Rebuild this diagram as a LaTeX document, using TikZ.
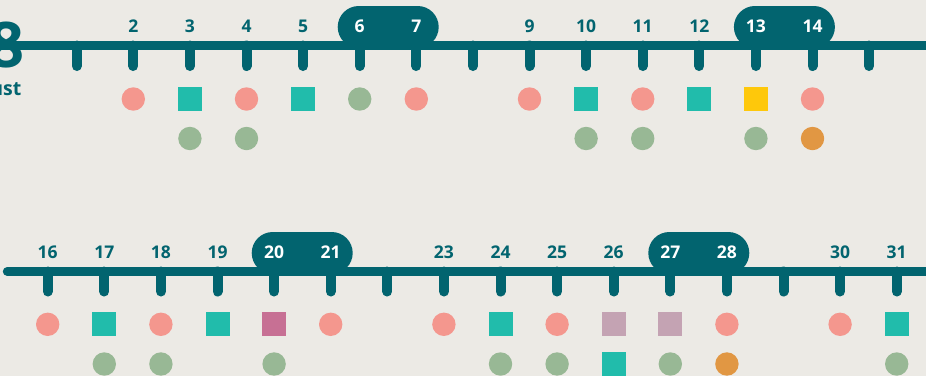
\documentclass[tikz,border=0pt]{standalone}
\usepackage{fontspec}
\setmainfont{Open Sans}
\definecolor{bg}{HTML}{ECEAE5}
\definecolor{ink}{HTML}{02646F}
\definecolor{pinkc}{HTML}{F4978E}
\definecolor{tealc}{HTML}{21BCAB}
\definecolor{greenc}{HTML}{98B895}
\definecolor{yellowc}{HTML}{FEC80B}
\definecolor{orangec}{HTML}{E19743}
\definecolor{magc}{HTML}{C77094}
\definecolor{mauvec}{HTML}{C4A3B3}
\tikzset{
  axisline/.style={draw=ink, line width=9pt},
  tickmark/.style={draw=ink, line width=10pt, line cap=round},
  pill/.style={fill=ink, rounded corners=21pt},
  daylabel/.style={inner sep=0pt, text=ink, font=\fontsize{17.5}{19}\selectfont\bfseries},
  daylabelw/.style={daylabel, text=white},
  dot/.style={circle, inner sep=0pt, minimum size=23.4pt},
  sq/.style={rectangle, inner sep=0pt, minimum size=24pt},
}
\begin{document}
\begin{tikzpicture}[x=1pt,y=-1pt]
\useasboundingbox (0,0) rectangle (926,376);
\fill[bg] (0,0) rectangle (926,376);
\clip (0,0) rectangle (926,376);

% ---------- top row ----------
\fill[pill] (337.7,6) rectangle (438.7,48);
\fill[pill] (733.9,6) rectangle (834.9,48);
\draw[axisline] (0,45.5) -- (926,45.5);
\node[inner sep=0pt, anchor=east, text=ink, font=\fontsize{63}{63}\selectfont\bfseries] (yr) at (24.5,45.5) {8};
\node[inner sep=0pt, anchor=base east, text=ink, font=\fontsize{19.5}{20}\selectfont\bfseries] (mon) at (21.5,95) {August};
\foreach \d in {1,...,15}{
  \coordinate (t\d) at ({76.7+56.6*(\d-1)},45.5);
  \coordinate (b\d) at ({76.7+56.6*(\d-1)},66);
  \draw[tickmark] (t\d) -- (b\d);
}
\foreach \d in {2,3,4,5,9,10,11,12}{
  \node[daylabel] (l\d) at ({76.7+56.6*(\d-1)},26.5) {\d};
}
\foreach \d in {6,7,13,14}{
  \node[daylabelw] (l\d) at ({76.7+56.6*(\d-1)},26.5) {\d};
}
% first row of markers
\foreach \d/\s/\c in {2/dot/pinkc,3/sq/tealc,4/dot/pinkc,5/sq/tealc,6/dot/greenc,7/dot/pinkc,
                      9/dot/pinkc,10/sq/tealc,11/dot/pinkc,12/sq/tealc,13/sq/yellowc,14/dot/pinkc}{
  \node[\s, fill=\c] (m\d a) at ({76.7+56.6*(\d-1)},99) {};
}
\foreach \d/\s/\c in {3/dot/greenc,4/dot/greenc,10/dot/greenc,11/dot/greenc,13/dot/greenc,14/dot/orangec}{
  \node[\s, fill=\c] (m\d b) at ({76.7+56.6*(\d-1)},138.5) {};
}

% ---------- bottom row ----------
\fill[pill] (251.7,232) rectangle (352.7,274);
\fill[pill] (648.3,232) rectangle (749.3,274);
\draw[axisline, line cap=round] (7.3,271.5) -- (930,271.5);
\foreach \d in {16,...,31}{
  \coordinate (t\d) at ({47.7+56.6*(\d-16)},271.5);
  \coordinate (b\d) at ({47.7+56.6*(\d-16)},291.5);
  \draw[tickmark] (t\d) -- (b\d);
}
\foreach \d in {16,17,18,19,23,24,25,26,30,31}{
  \node[daylabel] (l\d) at ({47.7+56.6*(\d-16)},252) {\d};
}
\foreach \d in {20,21,27,28}{
  \node[daylabelw] (l\d) at ({47.7+56.6*(\d-16)},252) {\d};
}
\foreach \d/\s/\c in {16/dot/pinkc,17/sq/tealc,18/dot/pinkc,19/sq/tealc,20/sq/magc,21/dot/pinkc,
                      23/dot/pinkc,24/sq/tealc,25/dot/pinkc,26/sq/mauvec,27/sq/mauvec,28/dot/pinkc,
                      30/dot/pinkc,31/sq/tealc}{
  \node[\s, fill=\c] (m\d a) at ({47.7+56.6*(\d-16)},324.3) {};
}
\foreach \d/\s/\c in {17/dot/greenc,18/dot/greenc,20/dot/greenc,24/dot/greenc,25/dot/greenc,
                      26/sq/tealc,27/dot/greenc,28/dot/orangec,31/dot/greenc}{
  \node[\s, fill=\c] (m\d b) at ({47.7+56.6*(\d-16)},364) {};
}
\end{tikzpicture}
\end{document}
